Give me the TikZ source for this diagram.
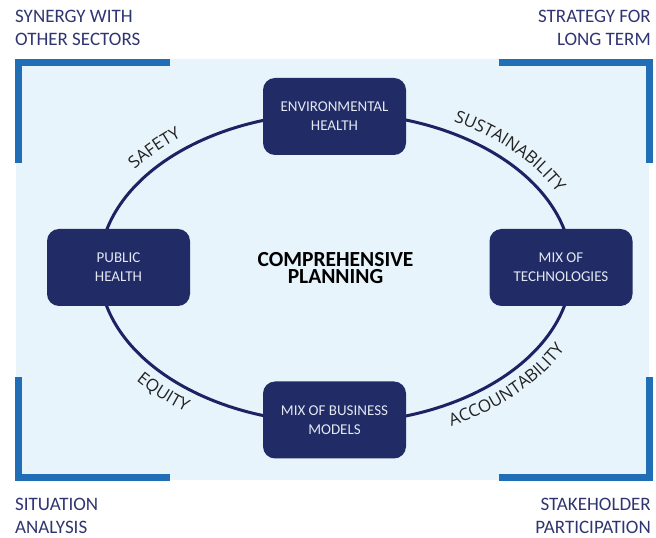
\documentclass[tikz,border=0pt]{standalone}
\usepackage{fontspec}
\setmainfont{Carlito}
\newfontfamily\opensans{Open Sans}
\usetikzlibrary{decorations.text}
\definecolor{bgblue}{HTML}{E8F4FB}
\definecolor{bracketblue}{HTML}{1F6EB6}
\definecolor{ringnavy}{HTML}{1E2163}
\definecolor{boxnavy}{HTML}{212B66}
\definecolor{boxtext}{HTML}{E3E8F2}
\definecolor{cornertext}{HTML}{2F3570}
\definecolor{labeltext}{HTML}{222222}
\newcommand\arclabelfont{\opensans\fontsize{17}{17}\selectfont}
\tikzset{
  box/.style={fill=boxnavy, rounded corners=12pt, minimum width=143pt, minimum height=77pt,
    text=boxtext, align=center, inner sep=0pt, font=\fontsize{15}{19}\selectfont},
  bracket/.style={draw=bracketblue, line width=6.4pt, line join=miter},
  ring/.style={draw=ringnavy, line width=3pt},
  corner/.style={text=cornertext, inner sep=0pt, font=\fontsize{19}{23}\selectfont},
  arclabel/.style={decorate, decoration={text along path, text align=center,
    text color=labeltext, text={#1}}}
}
\begin{document}
\begin{tikzpicture}[x=1pt,y=1pt]
  \useasboundingbox (0,0) rectangle (656,538);
  \fill[bgblue] (15.5,58) rectangle (649,479);
  \draw[bracket] (18.3,375) -- (18.3,475.5) -- (170,475.5);
  \draw[bracket] (498.7,475.5) -- (649.3,475.5) -- (649.3,375);
  \draw[bracket] (18.3,161) -- (18.3,60.5) -- (170,60.5);
  \draw[bracket] (498.7,60.5) -- (649.3,60.5) -- (649.3,161);
  \coordinate (c) at (335.5,270);
  \draw[ring] (c) ellipse [x radius=236pt, y radius=155pt];
  \node[box] (env) at (334.5,421.5) {ENVIRONMENTAL\\HEALTH};
  \node[box] (pub) at (118.5,270.5) {PUBLIC\\HEALTH};
  \node[box] (tech) at (561,270.5) {MIX OF\\TECHNOLOGIES};
  \node[box] (biz) at (334.5,118) {MIX OF BUSINESS\\MODELS};
  \node[align=center, inner sep=0pt, font=\bfseries\fontsize{21.5}{17.5}\selectfont] (plan) at (c) {COMPREHENSIVE\\PLANNING};
  \node[corner, anchor=north west, align=left] (synergy) at (15,528) {SYNERGY WITH\\OTHER SECTORS};
  \node[corner, anchor=north east, align=right] (strategy) at (651,528) {STRATEGY FOR\\LONG TERM};
  \node[corner, anchor=north west, align=left] (situation) at (15,40) {SITUATION\\ANALYSIS};
  \node[corner, anchor=north east, align=right] (stake) at (651,40) {STAKEHOLDER\\PARTICIPATION};
  % labels along the ring
  \path[arclabel={|\arclabelfont|SAFETY}] (c) ++(163:248pt and 167pt)
    arc[start angle=163, end angle=113, x radius=248pt, y radius=167pt];
  \path[arclabel={|\arclabelfont|SUSTAINABILITY}] (c) ++(74:248pt and 167pt)
    arc[start angle=74, end angle=10, x radius=248pt, y radius=167pt];
  \path[arclabel={|\arclabelfont|ACCOUNTABILITY}] (c) ++(-77:258pt and 177pt)
    arc[start angle=-77, end angle=-9, x radius=258pt, y radius=177pt];
  \path[arclabel={|\arclabelfont|EQUITY}] (c) ++(202:258pt and 177pt)
    arc[start angle=202, end angle=249, x radius=258pt, y radius=177pt];
\end{tikzpicture}
\end{document}
